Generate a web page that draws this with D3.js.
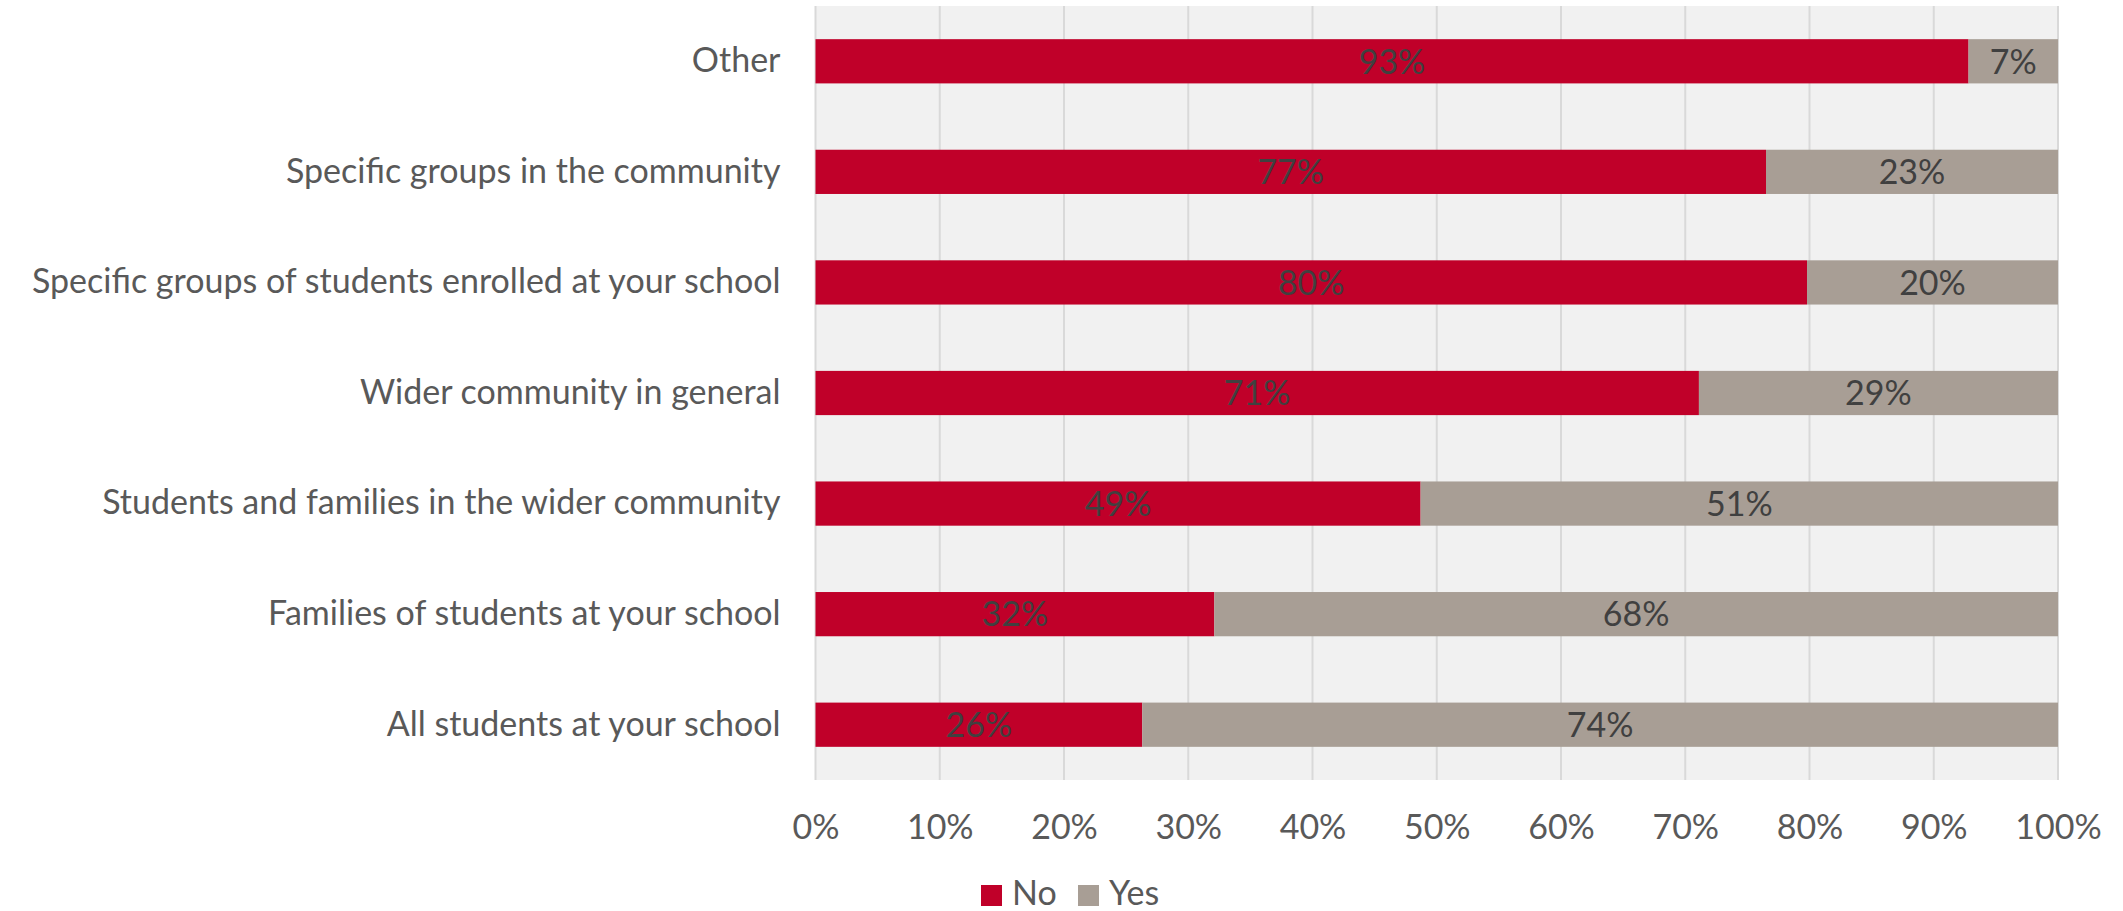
<!DOCTYPE html>
<html>
<head>
<meta charset="utf-8">
<script src="https://cdn.jsdelivr.net/npm/d3@7"></script>
<style>
  html, body { margin: 0; padding: 0; background: #fff; }
  svg { display: block; font-family: Lato, "Open Sans", sans-serif; }
</style>
</head>
<body>
<svg id="chart" width="2123" height="911"></svg>
<script>
// data, top row first
const categories = [
  "Other",
  "Specific groups in the community",
  "Specific groups of students enrolled at your school",
  "Wider community in general",
  "Students and families in the wider community",
  "Families of students at your school",
  "All students at your school"
];
const noValues  = [92.8, 76.5, 79.8, 71.1, 48.7, 32.1, 26.3];
const yesValues = [7.2, 23.5, 20.2, 28.9, 51.3, 67.9, 73.7];
const noLabels  = ["93%", "77%", "80%", "71%", "49%", "32%", "26%"];
const yesLabels = ["7%", "23%", "20%", "29%", "51%", "68%", "74%"];
const xTicks = [0, 10, 20, 30, 40, 50, 60, 70, 80, 90, 100];
const seriesNames = ["No", "Yes"];

const SVG = d3.select("#chart");
const PLOT = {left: 815.5, right: 2058, top: 6, bottom: 780};
const RED = "#c00029";
const GREY = "#a89e95";
const FONT_SIZE = 34;

const X = d3.scaleLinear().domain([0, 100]).range([PLOT.left, PLOT.right]);
const Y = d3.scaleBand().domain(categories).range([PLOT.top, PLOT.bottom])
  .paddingInner(0.6).paddingOuter(0.3);

// plot background
SVG.append("rect")
  .attr("x", PLOT.left).attr("y", PLOT.top)
  .attr("width", PLOT.right - PLOT.left).attr("height", PLOT.bottom - PLOT.top)
  .attr("fill", "#f1f1f1");

// gridlines
SVG.append("g").selectAll("line").data(xTicks).join("line")
  .attr("x1", d => X(d)).attr("x2", d => X(d))
  .attr("y1", PLOT.top).attr("y2", PLOT.bottom)
  .attr("stroke", "#d9d9d9").attr("stroke-width", 2);

// bars
let rows = categories.map((c, i) => ({
  cat: c, no: noValues[i], yes: yesValues[i], noLab: noLabels[i], yesLab: yesLabels[i]
}));
let bars = SVG.append("g");
bars.selectAll(".no").data(rows).join("rect")
  .attr("class", "no")
  .attr("x", X(0)).attr("y", d => Y(d.cat))
  .attr("width", d => X(d.no) - X(0)).attr("height", Y.bandwidth())
  .attr("fill", RED);
bars.selectAll(".yes").data(rows).join("rect")
  .attr("class", "yes")
  .attr("x", d => X(d.no)).attr("y", d => Y(d.cat))
  .attr("width", d => X(d.no + d.yes) - X(d.no)).attr("height", Y.bandwidth())
  .attr("fill", GREY);

// data labels
let labels = SVG.append("g")
  .attr("font-size", FONT_SIZE).attr("fill", "#404040").attr("text-anchor", "middle");
labels.selectAll(".nol").data(rows).join("text")
  .attr("x", d => (X(0) + X(d.no)) / 2)
  .attr("y", d => Y(d.cat) + Y.bandwidth() / 2)
  .attr("dy", "0.36em")
  .text(d => d.noLab);
labels.selectAll(".yesl").data(rows).join("text")
  .attr("x", d => (X(d.no) + X(d.no + d.yes)) / 2)
  .attr("y", d => Y(d.cat) + Y.bandwidth() / 2)
  .attr("dy", "0.36em")
  .text(d => d.yesLab);

// x axis
let xAxis = SVG.append("g")
  .attr("transform", `translate(0,${PLOT.bottom})`)
  .call(d3.axisBottom(X).tickValues(xTicks).tickFormat(d => d + "%").tickSize(0).tickPadding(35));
xAxis.attr("font-family", null).attr("font-size", FONT_SIZE);
xAxis.select(".domain").remove();
xAxis.selectAll("text").attr("fill", "#595959");

// y axis
let yAxis = SVG.append("g")
  .attr("transform", `translate(${PLOT.left},0)`)
  .call(d3.axisLeft(Y).tickSize(0).tickPadding(35));
yAxis.attr("font-family", null).attr("font-size", FONT_SIZE);
yAxis.select(".domain").remove();
yAxis.selectAll("text").attr("fill", "#595959");

// legend
let legend = SVG.append("g");
let legendX = [981, 1078];
seriesNames.forEach((name, i) => {
  legend.append("rect")
    .attr("x", legendX[i]).attr("y", 885)
    .attr("width", 21).attr("height", 21)
    .attr("fill", i === 0 ? RED : GREY);
  legend.append("text")
    .attr("x", legendX[i] + 31).attr("y", 905)
    .attr("font-size", FONT_SIZE).attr("fill", "#595959")
    .text(name);
});
</script>
</body>
</html>
